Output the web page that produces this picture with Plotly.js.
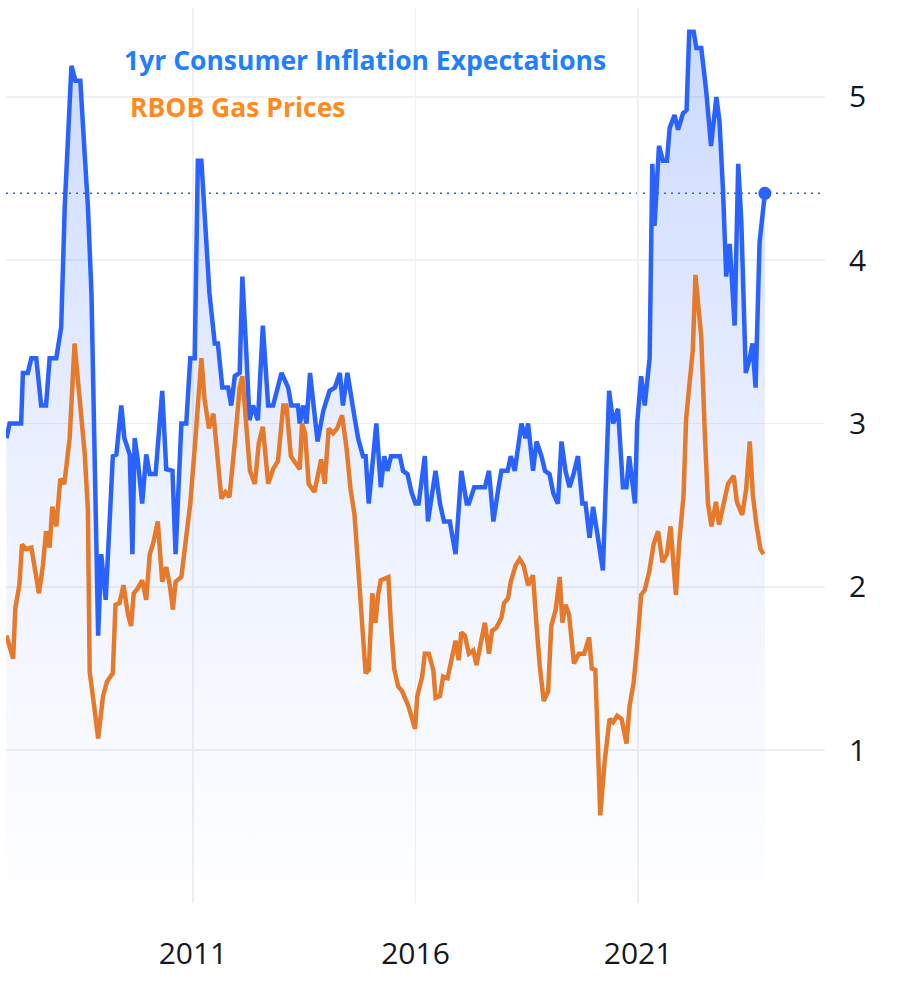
<!DOCTYPE html>
<html>
<head>
<meta charset="utf-8">
<script src="https://cdn.plot.ly/plotly-3.0.1.min.js"></script>
<style>html,body{margin:0;padding:0;background:#fff;}#chart{width:898px;height:982px;}</style>
</head>
<body>
<div id="chart"></div>
<script>
// 1yr Consumer Inflation Expectations (decimal year, value)
const inflYears = [2006.81,2006.88,2007.14,2007.18,2007.29,2007.37,2007.48,2007.59,2007.70,2007.78,2007.93,2008.04,2008.12,2008.19,2008.27,2008.36,2008.47,2008.57,2008.64,2008.72,2008.79,2008.87,2008.94,2009.04,2009.13,2009.20,2009.28,2009.39,2009.46,2009.58,2009.64,2009.69,2009.76,2009.86,2009.95,2010.03,2010.16,2010.31,2010.40,2010.54,2010.61,2010.74,2010.85,2010.94,2011.04,2011.11,2011.19,2011.28,2011.37,2011.49,2011.56,2011.66,2011.79,2011.86,2011.94,2012.05,2012.11,2012.20,2012.27,2012.35,2012.46,2012.57,2012.69,2012.80,2012.99,2013.14,2013.21,2013.36,2013.40,2013.48,2013.55,2013.63,2013.70,2013.80,2013.93,2014.07,2014.19,2014.30,2014.37,2014.47,2014.60,2014.71,2014.82,2014.88,2014.95,2015.03,2015.12,2015.22,2015.30,2015.37,2015.45,2015.65,2015.72,2015.82,2015.91,2016.00,2016.07,2016.21,2016.28,2016.45,2016.55,2016.64,2016.77,2016.90,2017.03,2017.15,2017.20,2017.32,2017.56,2017.65,2017.75,2017.86,2017.93,2018.07,2018.14,2018.23,2018.38,2018.47,2018.53,2018.64,2018.72,2018.83,2018.91,2019.01,2019.10,2019.20,2019.28,2019.37,2019.46,2019.55,2019.65,2019.75,2019.82,2019.91,2019.99,2020.10,2020.21,2020.35,2020.44,2020.55,2020.66,2020.74,2020.80,2020.93,2020.98,2021.07,2021.15,2021.26,2021.32,2021.37,2021.47,2021.56,2021.65,2021.71,2021.82,2021.90,2022.01,2022.09,2022.15,2022.25,2022.31,2022.42,2022.53,2022.64,2022.76,2022.83,2022.91,2022.98,2023.06,2023.17,2023.25,2023.32,2023.42,2023.51,2023.57,2023.64,2023.73,2023.85];
const inflValues = [2.91,3.0,3.0,3.31,3.31,3.40,3.40,3.11,3.11,3.40,3.40,3.59,4.33,4.73,5.19,5.10,5.10,4.64,4.33,3.80,2.94,1.70,2.20,1.92,2.41,2.80,2.81,3.11,2.91,2.81,2.20,2.91,2.78,2.51,2.81,2.69,2.69,3.20,2.72,2.71,2.20,3.0,3.0,3.40,3.40,4.61,4.61,4.17,3.80,3.49,3.49,3.22,3.22,3.11,3.29,3.31,3.90,3.43,3.02,3.11,3.02,3.60,3.11,3.11,3.31,3.22,3.11,3.11,3.0,3.11,3.0,3.31,3.13,2.89,3.08,3.20,3.22,3.31,3.11,3.31,3.09,2.91,2.80,2.80,2.51,2.75,3.0,2.61,2.80,2.71,2.80,2.80,2.71,2.69,2.58,2.51,2.51,2.80,2.40,2.71,2.51,2.40,2.40,2.20,2.71,2.51,2.51,2.61,2.61,2.71,2.40,2.60,2.71,2.71,2.80,2.71,3.0,2.91,3.0,2.71,2.89,2.80,2.71,2.69,2.57,2.51,2.89,2.71,2.61,2.69,2.80,2.51,2.51,2.30,2.49,2.30,2.10,3.20,3.0,3.09,2.61,2.61,2.80,2.51,3.0,3.29,3.11,3.40,4.59,4.21,4.70,4.61,4.61,4.81,4.89,4.80,4.90,4.92,5.40,5.40,5.30,5.30,5.04,4.70,5.0,4.85,4.42,3.90,4.10,3.60,4.59,4.24,3.31,3.40,3.49,3.22,4.11,4.41];

// RBOB Gas Prices (decimal year, value)
const gasYears = [2006.81,2006.96,2007.01,2007.10,2007.16,2007.25,2007.37,2007.44,2007.54,2007.63,2007.70,2007.78,2007.84,2007.93,2008.02,2008.11,2008.23,2008.34,2008.45,2008.57,2008.64,2008.68,2008.78,2008.87,2008.98,2009.07,2009.20,2009.26,2009.35,2009.44,2009.54,2009.61,2009.67,2009.76,2009.86,2009.95,2010.03,2010.11,2010.21,2010.31,2010.40,2010.48,2010.55,2010.61,2010.74,2010.84,2010.94,2011.04,2011.11,2011.19,2011.26,2011.36,2011.46,2011.54,2011.64,2011.73,2011.82,2011.94,2012.05,2012.11,2012.20,2012.28,2012.39,2012.48,2012.57,2012.69,2012.80,2012.91,2013.03,2013.10,2013.20,2013.28,2013.40,2013.45,2013.52,2013.60,2013.73,2013.88,2013.96,2014.05,2014.15,2014.24,2014.35,2014.45,2014.54,2014.63,2014.71,2014.80,2014.88,2014.95,2015.03,2015.10,2015.16,2015.22,2015.39,2015.45,2015.52,2015.61,2015.70,2015.84,2015.99,2016.04,2016.15,2016.21,2016.30,2016.40,2016.45,2016.55,2016.62,2016.72,2016.82,2016.90,2016.97,2017.03,2017.11,2017.20,2017.30,2017.37,2017.47,2017.56,2017.65,2017.72,2017.82,2017.93,2017.99,2018.08,2018.14,2018.25,2018.34,2018.43,2018.53,2018.64,2018.72,2018.79,2018.88,2018.98,2019.05,2019.15,2019.24,2019.30,2019.37,2019.45,2019.56,2019.67,2019.79,2019.90,2019.96,2020.04,2020.10,2020.15,2020.25,2020.36,2020.44,2020.53,2020.63,2020.74,2020.81,2020.90,2020.98,2021.07,2021.15,2021.25,2021.35,2021.45,2021.55,2021.65,2021.73,2021.85,2021.93,2022.02,2022.08,2022.16,2022.23,2022.29,2022.35,2022.42,2022.50,2022.57,2022.65,2022.75,2022.82,2022.93,2023.02,2023.15,2023.22,2023.34,2023.43,2023.51,2023.58,2023.66,2023.75,2023.82];
const gasValues = [1.70,1.56,1.87,2.01,2.26,2.23,2.24,2.13,1.96,2.13,2.34,2.24,2.49,2.37,2.66,2.63,2.91,3.49,3.19,2.81,2.47,1.48,1.27,1.07,1.33,1.42,1.47,1.89,1.90,2.01,1.83,1.76,1.96,1.99,2.04,1.92,2.20,2.27,2.40,2.03,2.12,2.01,1.86,2.03,2.06,2.29,2.51,2.85,3.12,3.40,3.15,2.97,3.06,2.81,2.54,2.58,2.55,2.88,3.22,3.29,3.0,2.71,2.63,2.88,2.98,2.63,2.72,2.77,3.11,3.11,2.80,2.77,2.72,3.0,2.94,2.63,2.58,2.78,2.63,2.97,2.94,2.97,3.05,2.85,2.60,2.44,2.13,1.83,1.47,1.49,1.96,1.78,1.95,2.04,2.06,1.76,1.50,1.39,1.36,1.27,1.13,1.33,1.45,1.59,1.59,1.49,1.32,1.33,1.45,1.44,1.56,1.67,1.55,1.72,1.70,1.59,1.61,1.52,1.66,1.78,1.59,1.73,1.75,1.81,1.90,1.93,2.03,2.13,2.17,2.13,2.01,2.07,1.76,1.52,1.30,1.36,1.76,1.86,2.06,1.78,1.89,1.83,1.53,1.59,1.59,1.69,1.50,1.49,1.02,0.60,0.93,1.19,1.17,1.21,1.19,1.04,1.27,1.41,1.64,1.95,1.98,2.09,2.26,2.34,2.15,2.20,2.37,1.95,2.29,2.55,3.03,3.25,3.45,3.91,3.71,3.53,2.94,2.51,2.37,2.52,2.38,2.52,2.63,2.68,2.52,2.44,2.60,2.89,2.56,2.38,2.23,2.20];

const seriesNames = ['1yr Consumer Inflation Expectations', 'RBOB Gas Prices'];
const xTickVals = [2011, 2016, 2021];
const xTickText = ['2011', '2016', '2021'];
const yTickVals = [1, 2, 3, 4, 5];
const yTickText = ['1', '2', '3', '4', '5'];

const BLUE = '#2962FF';
const ORANGE = '#E67A2A';

const lastX = inflYears[inflYears.length - 1];
const lastY = inflValues[inflValues.length - 1];

const traces = [
  {
    x: inflYears, y: inflValues, type: 'scatter', mode: 'lines',
    name: seriesNames[0],
    line: {color: BLUE, width: 4.5, shape: 'linear'},
    fill: 'tozeroy',
    fillgradient: {
      type: 'vertical',
      colorscale: [[0, 'rgba(41,98,255,0.0)'], [0.5, 'rgba(41,98,255,0.09)'], [1, 'rgba(41,98,255,0.24)']]
    },
    hoverinfo: 'skip'
  },
  {
    x: gasYears, y: gasValues, type: 'scatter', mode: 'lines',
    name: seriesNames[1],
    line: {color: ORANGE, width: 4.5},
    hoverinfo: 'skip'
  },
  {
    x: [lastX], y: [lastY], type: 'scatter', mode: 'markers',
    marker: {color: BLUE, size: 13},
    hoverinfo: 'skip', showlegend: false
  }
];

const layout = {
  width: 898, height: 982,
  margin: {l: 6, r: 73, t: 8, b: 79},
  paper_bgcolor: '#ffffff',
  plot_bgcolor: '#ffffff',
  showlegend: false,
  font: {family: '"Open Sans", "Noto Sans", sans-serif', color: '#131722'},
  xaxis: {
    range: [2006.80, 2025.20],
    tickmode: 'array', tickvals: xTickVals, ticktext: xTickText,
    showgrid: true, gridcolor: '#eef0f3', gridwidth: 1.5,
    zeroline: false, showline: false,
    ticks: 'outside', ticklen: 24, tickcolor: 'rgba(0,0,0,0)',
    tickfont: {size: 30, color: '#131722'}
  },
  yaxis: {
    range: [0.063, 5.545], side: 'right',
    tickmode: 'array', tickvals: yTickVals, ticktext: yTickText,
    showgrid: true, gridcolor: '#eef0f3', gridwidth: 1.5,
    zeroline: false, showline: false,
    ticks: 'outside', ticklen: 17, tickcolor: 'rgba(0,0,0,0)',
    tickfont: {size: 30, color: '#131722'}
  },
  shapes: [{
    type: 'line', xref: 'paper', x0: 0, x1: 1, yref: 'y', y0: lastY, y1: lastY,
    line: {color: BLUE, width: 1.5, dash: '2px,5px'}, layer: 'below'
  }],
  annotations: [
    {xref: 'paper', yref: 'paper', x: 0.1416, y: 0.942, xanchor: 'left', yanchor: 'middle',
     text: '<b>' + seriesNames[0] + '</b>', showarrow: false,
     font: {size: 26.5, color: '#1E80FF', family: '"Open Sans", "Noto Sans", sans-serif'}},
    {xref: 'paper', yref: 'paper', x: 0.149, y: 0.889, xanchor: 'left', yanchor: 'middle',
     text: '<b>' + seriesNames[1] + '</b>', showarrow: false,
     font: {size: 26.5, color: '#FF8A1E', family: '"Open Sans", "Noto Sans", sans-serif'}}
  ]
};

Plotly.newPlot('chart', traces, layout, {displayModeBar: false, staticPlot: true});
</script>
</body>
</html>
